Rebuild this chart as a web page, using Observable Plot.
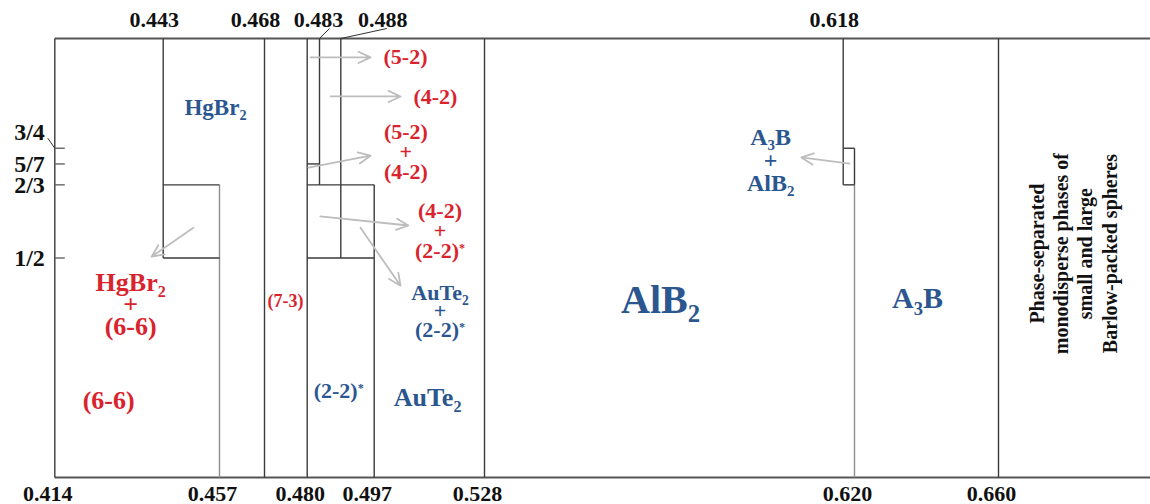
<!DOCTYPE html>
<html><head><meta charset="utf-8">
<script src="https://cdn.jsdelivr.net/npm/d3@7"></script>
<script src="https://cdn.jsdelivr.net/npm/@observablehq/plot@0.6"></script>
<style>html,body{margin:0;padding:0;background:#fff;} svg{display:block;}</style>
</head><body><div id="chart"></div>
<script>
// ---- tick values (size ratio and composition) ----
const bottomTicks = [0.414, 0.457, 0.480, 0.497, 0.528, 0.620, 0.660];
const topTicks = [0.443, 0.468, 0.618];
const topTicksLed = [0.483, 0.488];
const fracTicks = [1/2, 2/3, 5/7, 3/4];
const fracLabels = ["1/2", "2/3", "5/7", "3/4"];
const xEnd = 0.702;

// ---- phase boundaries ----
const boundaries = [
  {x: 0.414, y1: 0, y2: 1},
  {x: 0.443, y1: 1/2, y2: 1},
  {x: 0.468, y1: 0, y2: 1},
  {x: 0.480, y1: 0, y2: 1},
  {x: 0.483, y1: 2/3, y2: 1},
  {x: 0.488, y1: 1/2, y2: 1},
  {x: 0.497, y1: 0, y2: 2/3},
  {x: 0.528, y1: 0, y2: 1},
  {x: 0.618, y1: 2/3, y2: 1},
  {x: 0.620, y1: 2/3, y2: 3/4},
  {x: 0.660, y1: 0, y2: 1}
];
const lowerBoundaries = [
  {x: 0.457, y1: 0, y2: 2/3},
  {x: 0.620, y1: 0, y2: 2/3}
];
const compositionSteps = [
  {y: 2/3, x1: 0.443, x2: 0.457},
  {y: 1/2, x1: 0.443, x2: 0.457},
  {y: 5/7, x1: 0.480, x2: 0.483},
  {y: 2/3, x1: 0.480, x2: 0.497},
  {y: 1/2, x1: 0.480, x2: 0.497},
  {y: 3/4, x1: 0.618, x2: 0.620},
  {y: 2/3, x1: 0.618, x2: 0.620}
];
const frameEdges = [
  {y: 1, x1: 0.414, x2: xEnd},
  {y: 0, x1: 0.414, x2: xEnd}
];

// ---- phase labels (x: size ratio, y: composition) ----
const redLabels = [
  {text: "(5-2)", x: 0.5058, y: 0.957},
  {text: "(4-2)", x: 0.5142, y: 0.866},
  {text: "(5-2)\n+\n(4-2)", x: 0.5059, y: 0.740},
  {text: "(4-2)\n+\n(2-2)*", x: 0.5155, y: 0.560}
];
const redLargeLabels = [
  {text: "HgBr₂\n+\n(6-6)", x: 0.4343, y: 0.390},
  {text: "(6-6)", x: 0.4284, y: 0.173}
];
const redSmallLabels = [
  {text: "(7-3)", x: 0.4739, y: 0.401}
];
const blueLabels = [
  {text: "AuTe₂\n+\n(2-2)*", x: 0.5155, y: 0.376},
  {text: "(2-2)*", x: 0.4875, y: 0.194}
];
const blueHgBr2Labels = [
  {text: "HgBr₂", x: 0.4560, y: 0.843}
];
const blueAuTe2Labels = [
  {text: "AuTe₂", x: 0.5120, y: 0.182}
];
const blueMixLabels = [
  {text: "A₃B\n+\nAlB₂", x: 0.5998, y: 0.722}
];
const blueBigLabels = [{text: "AlB₂", x: 0.5722, y: 0.403}];
const blueA3BLabels = [{text: "A₃B", x: 0.6375, y: 0.408}];
const noteLabels = [{text: "Phase-separated\nmonodisperse phases of\nsmall and large\nBarlow-packed spheres", x: 0.6804, y: 0.510}];

// ---- arrows from regions to labels ----
const arrows = [
  {x1: 0.4808, y1: 0.957, x2: 0.4960, y2: 0.957},
  {x1: 0.4856, y1: 0.868, x2: 0.5044, y2: 0.868},
  {x1: 0.4803, y1: 0.706, x2: 0.4960, y2: 0.733},
  {x1: 0.4832, y1: 0.595, x2: 0.5066, y2: 0.574},
  {x1: 0.4933, y1: 0.569, x2: 0.5044, y2: 0.437},
  {x1: 0.4505, y1: 0.569, x2: 0.4399, y2: 0.503},
  {x1: 0.6191, y1: 0.715, x2: 0.6075, y2: 0.729}
];

// ---- scales ----
const xKnots = [0.414, 0.443, 0.457, 0.468, 0.480, 0.483, 0.488, 0.497, 0.528, 0.618, 0.620, 0.660, xEnd];
const xPixels = [54.3, 162.7, 219, 264, 306.7, 319, 340.3, 373.7, 484, 842.7, 854, 998, 1150];
const W = 1150, H = 504, mT = 38, mB = 27, mL = 54, mR = 0;
const xOpts = {type: "linear", domain: xKnots, range: xPixels};
const yOpts = {type: "linear", domain: [0, 1], range: [H - mB, mT]};
const xs = Plot.scale({x: xOpts});
const ys = Plot.scale({y: yOpts});
const xOff = (v, px) => xs.invert(xs.apply(v) + px);
const yOff = (v, px) => ys.invert(ys.apply(v) + px);

const leaders = [
  {x1: xOff(0.483, 10), y1: yOff(1, -10), x2: 0.483, y2: 1},
  {x1: xOff(0.488, 46), y1: yOff(1, -10), x2: 0.488, y2: 1},
  {x1: xOff(0.414, -7), y1: yOff(3/4, -10), x2: 0.414, y2: 3/4}
];
const fracTickMarks = fracTicks.map(v => ({y: v, x1: 0.414, x2: xOff(0.414, 10)}));

const RED = "#d9232d", BLUE = "#2b5690", DARK = "#3a3a3a", GREY = "#8e8e8e", INK = "#111";
const FONT = "'Liberation Serif', 'Times New Roman', serif";
const fmt = d3.format(".3f");
const lbl = (data, o) => Plot.text(data, {x: "x", y: "y", text: "text", fontWeight: "bold", ...o});

const chart = Plot.plot({
  width: W, height: H,
  marginTop: mT, marginBottom: mB, marginLeft: mL, marginRight: mR,
  x: {...xOpts, axis: null},
  y: {...yOpts, axis: null},
  style: {fontFamily: FONT, background: "white", overflow: "visible"},
  marks: [
    Plot.link(frameEdges, {x1: "x1", x2: "x2", y1: "y", y2: "y", stroke: "#555", strokeWidth: 1.8}),
    Plot.link(boundaries, {x1: "x", x2: "x", y1: "y1", y2: "y2", stroke: DARK, strokeWidth: 1.4}),
    Plot.link(lowerBoundaries, {x1: "x", x2: "x", y1: "y1", y2: "y2", stroke: GREY, strokeWidth: 1.4}),
    Plot.link(compositionSteps, {x1: "x1", x2: "x2", y1: "y", y2: "y", stroke: DARK, strokeWidth: 1.4}),
    Plot.link(fracTickMarks, {x1: "x1", x2: "x2", y1: "y", y2: "y", stroke: "#666", strokeWidth: 1.4}),
    Plot.link(leaders, {x1: "x1", x2: "x2", y1: "y1", y2: "y2", stroke: "#333", strokeWidth: 1}),
    Plot.arrow(arrows, {x1: "x1", y1: "y1", x2: "x2", y2: "y2", stroke: "#bdbdbd", strokeWidth: 1.8, headLength: 11, headAngle: 50}),
    // axis labels
    Plot.text(bottomTicks, {x: d => d, y: 0, text: d => fmt(d), dy: 16, dx: -7, fontSize: 22, fontWeight: "bold", fill: INK}),
    Plot.text(topTicks, {x: d => d, y: 1, text: d => fmt(d), dy: -19, dx: -9, fontSize: 22, fontWeight: "bold", fill: INK}),
    Plot.text(topTicksLed.slice(0, 1), {x: d => d, y: 1, text: d => fmt(d), dy: -19, dx: -1, fontSize: 22, fontWeight: "bold", fill: INK}),
    Plot.text(topTicksLed.slice(1), {x: d => d, y: 1, text: d => fmt(d), dy: -19, dx: 42, fontSize: 22, fontWeight: "bold", fill: INK}),
    Plot.text(fracTicks.slice(0, 3), {x: 0.414, y: d => d, text: (d, i) => fracLabels[i], dx: -10, dy: 0, textAnchor: "end", fontSize: 24, fontWeight: "bold", fill: INK}),
    Plot.text(fracTicks.slice(3), {x: 0.414, y: d => d, text: (d, i) => fracLabels[3 + i], dx: -10, dy: -16, textAnchor: "end", fontSize: 24, fontWeight: "bold", fill: INK}),
    // phase labels
    lbl(redLabels, {fill: RED, fontSize: 22, lineHeight: 0.9}),
    lbl(redLargeLabels, {fill: RED, fontSize: 26, lineHeight: 0.85}),
    lbl(redSmallLabels, {fill: RED, fontSize: 18}),
    lbl(blueLabels, {fill: BLUE, fontSize: 22, lineHeight: 0.85}),
    lbl(blueHgBr2Labels, {fill: BLUE, fontSize: 23}),
    lbl(blueAuTe2Labels, {fill: BLUE, fontSize: 26}),
    lbl(blueMixLabels, {fill: BLUE, fontSize: 24, lineHeight: 0.95}),
    lbl(blueBigLabels, {fill: BLUE, fontSize: 40}),
    lbl(blueA3BLabels, {fill: BLUE, fontSize: 30}),
    lbl(noteLabels, {fill: INK, fontSize: 20, rotate: -90, lineHeight: 1.22})
  ]
});

// render chemical subscripts and starred superscripts as real tspans
(function richText(svg) {
  const ns = "http://www.w3.org/2000/svg";
  const walker = document.createTreeWalker(svg, NodeFilter.SHOW_TEXT);
  const nodes = [];
  while (walker.nextNode()) nodes.push(walker.currentNode);
  for (const n of nodes) {
    const s = n.nodeValue;
    if (!/[₂₃*]/.test(s)) continue;
    const frag = document.createDocumentFragment();
    for (const part of s.split(/([₂₃*])/)) {
      if (!part) continue;
      if (part === "₂" || part === "₃") {
        const t = document.createElementNS(ns, "tspan");
        t.setAttribute("font-size", "62%");
        t.setAttribute("baseline-shift", "-0.35em");
        t.textContent = part === "₂" ? "2" : "3";
        frag.appendChild(t);
      } else if (part === "*") {
        const t = document.createElementNS(ns, "tspan");
        t.setAttribute("font-size", "55%");
        t.setAttribute("baseline-shift", "0.5em");
        t.textContent = "*";
        frag.appendChild(t);
      } else frag.appendChild(document.createTextNode(part));
    }
    n.parentNode.replaceChild(frag, n);
  }
})(chart);

document.getElementById("chart").appendChild(chart);
</script>
</body></html>
